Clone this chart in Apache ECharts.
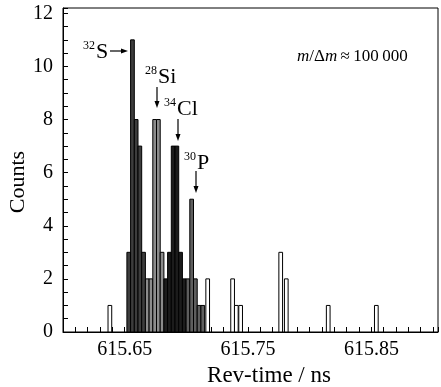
<!DOCTYPE html>
<html>
<head>
<meta charset="utf-8">
<script src="https://cdn.jsdelivr.net/npm/echarts@6/dist/echarts.min.js"></script>
<style>
  html, body { margin: 0; padding: 0; background: #fff; }
  #chart { width: 441px; height: 387px; }
</style>
</head>
<body>
<div id="chart"></div>
<script>
// histogram of revolution times, bin width 0.003 ns
const BIN = 0.003;

// each species: first bin start + counts of consecutive bins
const s32Start = 615.6518;
const s32Counts = [3, 11, 8, 7, 3];
const si28Start = 615.6668;
const si28Counts = [2, 2, 8, 8, 3];
const cl34Start = 615.6818;
const cl34Counts = [2, 3, 7, 7, 3, 2];
const p30Start = 615.6998;
const p30Counts = [2, 5, 2, 1, 1];

// unidentified events (white bars): bin start, count
const otherStarts = [615.6365, 615.7158, 615.736, 615.739, 615.7425, 615.775, 615.7795, 615.8135, 615.8525];
const otherCounts = [1, 2, 2, 1, 1, 3, 2, 1, 1];

const xTickLabels = ['615.65', '615.75', '615.85'];

const FONT = "'Liberation Serif', 'Times New Roman', serif";

const chart = echarts.init(document.getElementById('chart'));

function bins(start, counts) {
  return counts.map((c, i) => [start + i * BIN, c]);
}

function histSeries(name, data, fill) {
  return {
    type: 'custom', name,
    data,
    renderItem(params, api) {
      const x0 = api.value(0), c = api.value(1);
      const p0 = api.coord([x0, 0]);
      const p1 = api.coord([x0 + BIN, c]);
      return {
        type: 'rect',
        shape: { x: p0[0], y: p1[1], width: p1[0] - p0[0], height: p0[1] - p1[1] },
        style: { fill, stroke: '#000', lineWidth: 1 },
      };
    },
  };
}

// small text + arrow helpers for the annotations
function label(x, y, sup, main) {
  return [
    { type: 'text', x, y, style: { text: sup, font: `12px ${FONT}`, fill: '#000' } },
    { type: 'text', x: x + sup.length * 6 + 1, y: y + 1, style: { text: main, font: `22px ${FONT}`, fill: '#000' } },
  ];
}
function arrowRight(x1, x2, y) {
  return [
    { type: 'line', shape: { x1, y1: y, x2: x2 - 5, y2: y }, style: { stroke: '#000', lineWidth: 1.2 } },
    { type: 'polygon', shape: { points: [[x2, y], [x2 - 7, y - 2.5], [x2 - 7, y + 2.5]] }, style: { fill: '#000' } },
  ];
}
function arrowDown(x, y1, y2) {
  return [
    { type: 'line', shape: { x1: x, y1, x2: x, y2: y2 - 5 }, style: { stroke: '#000', lineWidth: 1.2 } },
    { type: 'polygon', shape: { points: [[x, y2], [x - 2.5, y2 - 7], [x + 2.5, y2 - 7]] }, style: { fill: '#000' } },
  ];
}

chart.setOption({
  animation: false,
  backgroundColor: '#fff',
  grid: { left: 63, right: -2, top: 8, bottom: 55, show: true, borderColor: '#000', borderWidth: 1 },
  xAxis: {
    type: 'value', min: 615.6, max: 615.904, interval: 0.01,
    axisLine: { lineStyle: { color: '#000', width: 1 } },
    axisTick: { inside: true, length: 5, lineStyle: { color: '#000' } },
    axisLabel: {
      color: '#000', fontFamily: FONT, fontSize: 20, margin: 8,
      formatter: v => {
        const s = v.toFixed(2);
        return xTickLabels.includes(s) ? s : '';
      },
    },
    splitLine: { show: false },
  },
  yAxis: {
    type: 'value', min: 0, max: 12.2, interval: 0.5,
    axisLine: { show: true, lineStyle: { color: '#000', width: 1 } },
    axisTick: { show: true, inside: true, length: 5, lineStyle: { color: '#000' } },
    axisLabel: {
      color: '#000', fontFamily: FONT, fontSize: 20, margin: 10,
      formatter: v => (Math.abs(v % 2) < 1e-6 ? String(v) : ''),
    },
    splitLine: { show: false },
  },
  series: [
    histSeries('other', otherStarts.map((s, i) => [s, otherCounts[i]]), '#ffffff'),
    histSeries('32S', bins(s32Start, s32Counts), '#3d3d3d'),
    histSeries('28Si', bins(si28Start, si28Counts), '#8c8c8c'),
    histSeries('34Cl', bins(cl34Start, cl34Counts), '#1c1c1c'),
    histSeries('30P', bins(p30Start, p30Counts), '#5e5e5e'),
  ],
  graphic: [
    { type: 'text', x: 18, y: 182, rotation: Math.PI / 2, style: { text: 'Counts', font: `22px ${FONT}`, fill: '#000', align: 'center', verticalAlign: 'middle' } },
    { type: 'text', x: 269, y: 376, style: { text: 'Rev-time / ns', font: `23px ${FONT}`, fill: '#000', align: 'center', verticalAlign: 'middle' } },
    {
      type: 'text', x: 297, y: 57,
      style: {
        text: '{i|m}/Δ{i|m}\u2009≈\u2009100\u2009000', font: `17px ${FONT}`, fill: '#000', verticalAlign: 'middle',
        rich: { i: { fontStyle: 'italic', fontFamily: FONT, fontSize: 17 } },
      },
    },
    ...label(83, 40, '32', 'S'), ...arrowRight(110, 128, 51),
    ...label(145, 65, '28', 'Si'), ...arrowDown(157, 87, 108),
    ...label(164, 97, '34', 'Cl'), ...arrowDown(178, 119, 141),
    ...label(184, 151, '30', 'P'), ...arrowDown(196, 171, 193),
  ],
});
</script>
</body>
</html>
